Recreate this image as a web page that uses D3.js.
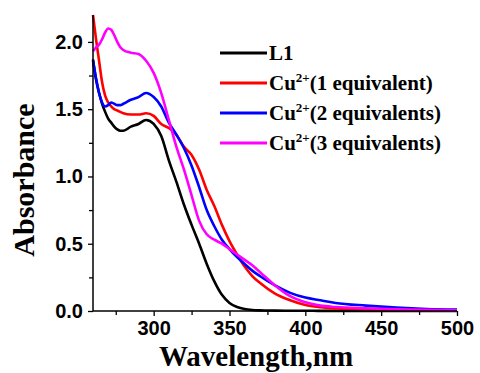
<!DOCTYPE html>
<html><head><meta charset="utf-8">
<script src="https://cdn.jsdelivr.net/npm/d3@7"></script>
<style>html,body{margin:0;padding:0;background:#fff;}svg{display:block;}</style>
</head><body>
<script>
const wavelengths = [260,262,264,266,268,270,272,274,276,278,280,285,290,295,300,305,310,315,320,325,330,335,340,345,350,355,360,365,370,380,390,400,410,420,440,460,480,500];
const seriesL1 = [1.87,1.72,1.62,1.54,1.48,1.43,1.40,1.37,1.35,1.34,1.34,1.37,1.39,1.42,1.39,1.30,1.12,0.96,0.79,0.64,0.50,0.35,0.22,0.12,0.06,0.03,0.015,0.008,0.005,0.003,0.002,0.002,0.001,0.001,0.001,0,0,0];
const seriesCu1 = [2.20,2.02,1.86,1.70,1.60,1.55,1.52,1.50,1.49,1.48,1.47,1.46,1.46,1.47,1.45,1.39,1.36,1.31,1.22,1.16,1.05,0.90,0.78,0.64,0.52,0.42,0.33,0.26,0.21,0.13,0.08,0.045,0.028,0.018,0.01,0.007,0.005,0.004];
const seriesCu2 = [1.86,1.73,1.62,1.55,1.52,1.53,1.55,1.54,1.53,1.53,1.54,1.57,1.59,1.62,1.59,1.52,1.40,1.31,1.21,1.08,0.92,0.75,0.63,0.53,0.46,0.40,0.35,0.30,0.26,0.19,0.135,0.10,0.08,0.06,0.04,0.025,0.015,0.01];
const seriesCu3 = [1.93,1.96,1.98,2.02,2.07,2.10,2.09,2.05,2.00,1.96,1.94,1.92,1.91,1.86,1.77,1.62,1.42,1.22,1.05,0.86,0.67,0.57,0.53,0.50,0.46,0.42,0.38,0.34,0.29,0.19,0.11,0.065,0.04,0.03,0.02,0.012,0.008,0.005];
const xTicks = [300,350,400,450,500];
const xMinorTicks = [275,325,375,425,475];
const yTicks = [0,0.5,1.0,1.5,2.0];
const yMinorTicks = [0.25,0.75,1.25,1.75];
const legendNames = ["L1","Cu","Cu","Cu"];
const legendSup = ["","2+","2+","2+"];
const legendRest = ["","(1 equivalent)","(2 equivalents)","(3 equivalents)"];
const colors = ["#000000","#ff0000","#0000ff","#ff00ff"];

const W=480,H=373;
const SERIF="'Liberation Serif', 'Times New Roman', Times, serif";
const SANS="'Liberation Sans', Arial, sans-serif";
const svg=d3.select("body").append("svg").attr("width",W).attr("height",H);
const x=d3.scaleLinear().domain([260,500]).range([93,457]);
const y=d3.scaleLinear().domain([0,2.2]).range([311,15]);

const allSeries=[seriesL1,seriesCu1,seriesCu2,seriesCu3];
const line=d3.line().x((d,i)=>x(wavelengths[i])).y(d=>y(d)).curve(d3.curveMonotoneX);
allSeries.forEach((s,k)=>{
  svg.append("path").datum(s).attr("d",line).attr("fill","none")
    .attr("stroke",colors[k]).attr("stroke-width",2.6).attr("stroke-linejoin","round");
});

// axes
const gx=svg.append("g").attr("transform","translate(0,311)")
  .call(d3.axisBottom(x).tickValues(xTicks).tickSize(5).tickPadding(5).tickFormat(d3.format("d")));
svg.append("g").attr("transform","translate(0,311)")
  .call(d3.axisBottom(x).tickValues(xMinorTicks).tickSize(4).tickFormat(""))
  .call(g=>g.select(".domain").remove());
const gy=svg.append("g").attr("transform","translate(93,0)")
  .call(d3.axisLeft(y).tickValues(yTicks).tickSize(5).tickPadding(5).tickFormat(d3.format(".1f")));
svg.append("g").attr("transform","translate(93,0)")
  .call(d3.axisLeft(y).tickValues(yMinorTicks).tickSize(4).tickFormat(""))
  .call(g=>g.select(".domain").remove());
gx.select(".domain").attr("d",`M93,0H457`).attr("stroke-width",1.5);
gy.select(".domain").attr("d",`M0,311V${y(2.2)}`).attr("stroke-width",1.5);
svg.selectAll(".tick line").attr("stroke-width",1.3);
svg.selectAll(".tick text").attr("font-family",SANS).attr("font-weight","bold").attr("font-size",20).attr("fill","#000");

// axis titles
svg.append("text").attr("x",256).attr("y",366).attr("text-anchor","middle")
  .attr("font-family",SERIF).attr("font-weight","bold").attr("font-size",29).text("Wavelength,nm");
svg.append("text").attr("transform","translate(34,180) rotate(-90)").attr("text-anchor","middle")
  .attr("font-family",SERIF).attr("font-weight","bold").attr("font-size",30).text("Absorbance");

// legend
const lg=svg.append("g");
const rowsY=[53,83,113,143];
legendNames.forEach((n,i)=>{
  lg.append("line").attr("x1",220).attr("x2",267).attr("y1",rowsY[i]).attr("y2",rowsY[i])
    .attr("stroke",colors[i]).attr("stroke-width",2.8);
  const t=lg.append("text").attr("x",269).attr("y",rowsY[i]+7)
    .attr("font-family",SERIF).attr("font-weight","bold").attr("font-size",21).attr("fill","#000");
  t.append("tspan").text(n);
  if(legendSup[i]){
    t.append("tspan").attr("dy",-8).attr("font-size",13).text(legendSup[i]);
    t.append("tspan").attr("dy",8).text(legendRest[i]);
  }
});
</script>
</body></html>
